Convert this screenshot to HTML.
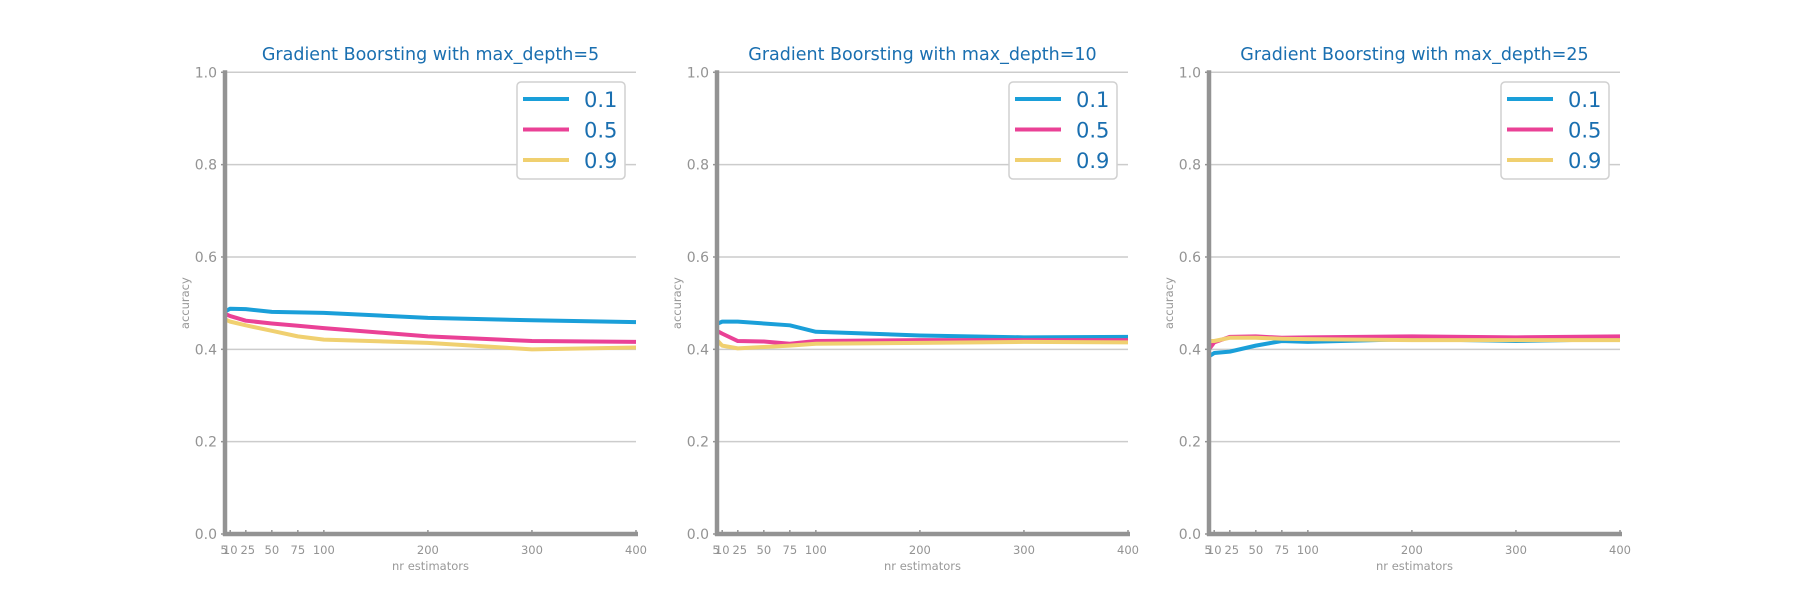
<!DOCTYPE html>
<html><head><meta charset="utf-8"><style>
body{margin:0;background:#fff;}
svg text{font-family:"DejaVu Sans","Liberation Sans",sans-serif;}
</style></head><body>
<svg id="c" width="1800" height="600" xmlns="http://www.w3.org/2000/svg"></svg>
<script>
const xs = [5,10,25,50,75,100,200,300,400];
const xTicks = [5,10,25,50,75,100,200,300,400];
const yTicks = [0,0.2,0.4,0.6,0.8,1.0];
const seriesNames = ["0.1","0.5","0.9"];
const titles = ["Gradient Boorsting with max_depth=5","Gradient Boorsting with max_depth=10","Gradient Boorsting with max_depth=25"];
const d5_01 = [0.482,0.488,0.487,0.481,0.480,0.479,0.468,0.463,0.459];
const d5_05 = [0.477,0.472,0.462,0.456,0.451,0.446,0.428,0.418,0.416];
const d5_09 = [0.465,0.460,0.452,0.440,0.428,0.421,0.414,0.400,0.404];
const d10_01 = [0.455,0.460,0.460,0.456,0.452,0.438,0.430,0.426,0.427];
const d10_05 = [0.440,0.434,0.418,0.417,0.412,0.418,0.420,0.420,0.420];
const d10_09 = [0.420,0.408,0.402,0.405,0.408,0.412,0.414,0.416,0.415];
const d25_01 = [0.385,0.392,0.395,0.408,0.418,0.416,0.422,0.418,0.422];
const d25_05 = [0.400,0.415,0.427,0.428,0.425,0.426,0.428,0.426,0.428];
const d25_09 = [0.418,0.418,0.425,0.425,0.423,0.422,0.420,0.420,0.420];
const panels = [[d5_01,d5_05,d5_09],[d10_01,d10_05,d10_09],[d25_01,d25_05,d25_09]];
const colors = ["#1a9fd9","#ea4196","#f0d070"];
const NS="http://www.w3.org/2000/svg";
const svg=document.getElementById('c');
function mk(tag,attrs,parent){const e=document.createElementNS(NS,tag);for(const k in attrs)e.setAttribute(k,attrs[k]);(parent||svg).appendChild(e);return e;}
const X0s=[225,717,1209], W=411, YT=72.3, YB=534;
panels.forEach((ser,p)=>{
  const x0=X0s[p];
  const g=mk('g',{});
  
  
  const sx=v=>x0+(v-5)/(400-5)*W;
  const sy=v=>YB-v*(YB-YT);
  yTicks.forEach(t=>{
    if(t>0){const l=mk('line',{x1:x0,x2:x0+W,y1:sy(t),y2:sy(t),stroke:'#cccccc','stroke-width':1.5},g);
    }
    mk('line',{x1:x0-4,x2:x0,y1:sy(t),y2:sy(t),stroke:'#939393','stroke-width':1.5},g);
    const tx=mk('text',{x:x0-8,y:sy(t)+5,'text-anchor':'end','font-size':14,fill:'#939393'},g);
    tx.textContent=t.toFixed(1);
    
  });
  xTicks.forEach(t=>{
    mk('line',{x1:sx(t),x2:sx(t),y1:YB,y2:YB-4,stroke:'#939393','stroke-width':1.5},g);
    const tx=mk('text',{x:sx(t)+(t==5?-1:t==10?0:t==25?2:0),y:YB+20,'text-anchor':'middle','font-size':11.5,fill:'#939393'},g);
    tx.textContent=t;
    
  });
  ser.forEach((vals,i)=>{
    const pl=mk('polyline',{points:xs.map((x,j)=>sx(x)+','+sy(vals[j])).join(' '),fill:'none',stroke:colors[i],'stroke-width':4,'stroke-linejoin':'round'},g);
    
  });
  mk('line',{x1:x0,x2:x0,y1:YT-2,y2:YB+2,stroke:'#939393','stroke-width':4.5},g);
  mk('line',{x1:x0-2,x2:x0+W+2,y1:YB,y2:YB,stroke:'#939393','stroke-width':4.5},g);
  const ti=mk('text',{x:x0+W/2,y:60,'text-anchor':'middle','font-size':17.5,fill:'#1a6fb0'},g);
  ti.textContent=titles[p];
  const yl=mk('text',{x:0,y:0,'text-anchor':'middle','font-size':11.5,fill:'#999',transform:`translate(${x0-36},${(YT+YB)/2}) rotate(-90)`},g);
  yl.textContent='accuracy';
  const xl=mk('text',{x:x0+W/2,y:YB+36,'text-anchor':'middle','font-size':11.5,fill:'#999'},g);
  xl.textContent='nr estimators';
  const lg=mk('g',{},g);
  
  const lx=x0+W-119;
  mk('rect',{x:lx,y:82,width:108,height:97,rx:4,fill:'#fff',stroke:'#d0d0d0','stroke-width':1.5},lg);
  seriesNames.forEach((n,i)=>{
    const yy=99+i*30.5;
    mk('line',{x1:lx+6,x2:lx+52,y1:yy,y2:yy,stroke:colors[i],'stroke-width':4},lg);
    const t=mk('text',{x:lx+67,y:yy+8,'font-size':21,fill:'#1a6fb0'},lg);
    t.textContent=n;
  });
});
</script>
</body></html>
